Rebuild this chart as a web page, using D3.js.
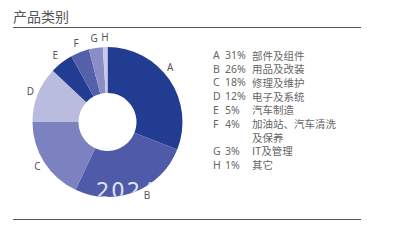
<!DOCTYPE html>
<html lang="zh">
<head>
<meta charset="UTF-8">
<title>产品类别</title>
<script src="https://cdnjs.cloudflare.com/ajax/libs/d3/7.8.5/d3.min.js"></script>
<style>
  body { margin: 0; background: #fff; }
  svg { display: block; font-family: "Noto Sans CJK SC", "Noto Sans", sans-serif; }
</style>
</head>
<body>
<svg width="395" height="240"></svg>
<script>
    const categories = ["A", "B", "C", "D", "E", "F", "G", "H"];
    const shares = [31, 26, 18, 12, 5, 4, 3, 1];
    const names = [["部件及组件"], ["用品及改装"], ["修理及维护"], ["电子及系统"], ["汽车制造"], ["加油站、汽车清洗", "及保养"], ["IT及管理"], ["其它"]];
    const colors = ["#223c91", "#4f5aa8", "#7c82c0", "#b9bbdf", "#223c91", "#5560aa", "#8a8ec6", "#c8cae8"];

    const svg = d3.select("svg");

    svg.append("text")
        .attr("x", 13).attr("y", 22)
        .attr("font-size", 14).attr("fill", "#555")
        .text("产品类别");

    svg.append("line").attr("x1", 13).attr("x2", 361).attr("y1", 27.5).attr("y2", 27.5)
        .attr("stroke", "#555").attr("stroke-width", 1);
    svg.append("line").attr("x1", 13).attr("x2", 361).attr("y1", 219.5).attr("y2", 219.5)
        .attr("stroke", "#555").attr("stroke-width", 1);

    const cx = 107.5, cy = 122, outerR = 75, innerR = 29;
    const pie = d3.pie().sort(null).value(d => d.value);
    const arcs = pie(categories.map((c, i) => ({ key: c, value: shares[i] })));
    const arc = d3.arc().innerRadius(innerR).outerRadius(outerR);

    const g = svg.append("g").attr("transform", `translate(${cx},${cy})`);
    g.selectAll("path")
        .data(arcs)
        .enter()
        .append("path")
        .attr("d", arc)
        .attr("fill", (d, i) => colors[i]);

    // faint year stamp, clipped to the ring
    svg.append("clipPath").attr("id", "ring")
        .append("circle").attr("cx", cx).attr("cy", cy).attr("r", outerR);
    svg.append("text")
        .attr("x", 96).attr("y", 198)
        .attr("clip-path", "url(#ring)")
        .attr("font-family", "'DejaVu Sans', sans-serif")
        .attr("font-size", 21).attr("letter-spacing", 2)
        .attr("fill", "#dfe1f3")
        .text("2024");

    g.selectAll(".lbl")
        .data(arcs)
        .enter()
        .append("text")
        .attr("class", "lbl")
        .attr("transform", d => {
            const mid = (d.startAngle + d.endAngle) / 2 - (d.index < 2 ? 0.12 : 0);
            const r = d.index >= 4 ? outerR + 10 : outerR + 8;
            return `translate(${Math.sin(mid) * r},${-Math.cos(mid) * r})`;
        })
        .attr("text-anchor", "middle")
        .attr("dominant-baseline", "central")
        .attr("font-family", "'Noto Sans', sans-serif")
        .attr("font-size", 10).attr("fill", "#555")
        .text(d => d.data.key);

    // legend
    const rowH = 13.7;
    let y = 55;
    const legend = svg.append("g").attr("font-size", 10.5).attr("fill", "#666");
    categories.forEach((c, i) => {
        legend.append("text").attr("x", 213).attr("y", y).attr("dominant-baseline", "central")
            .attr("font-family", "'Noto Sans', sans-serif").text(c);
        legend.append("text").attr("x", 225).attr("y", y).attr("dominant-baseline", "central")
            .attr("font-family", "'Noto Sans', sans-serif").text(shares[i] + "%");
        names[i].forEach(line => {
            legend.append("text").attr("x", 252).attr("y", y).attr("dominant-baseline", "central").text(line);
            y += rowH;
        });
    });
</script>
</body>
</html>
